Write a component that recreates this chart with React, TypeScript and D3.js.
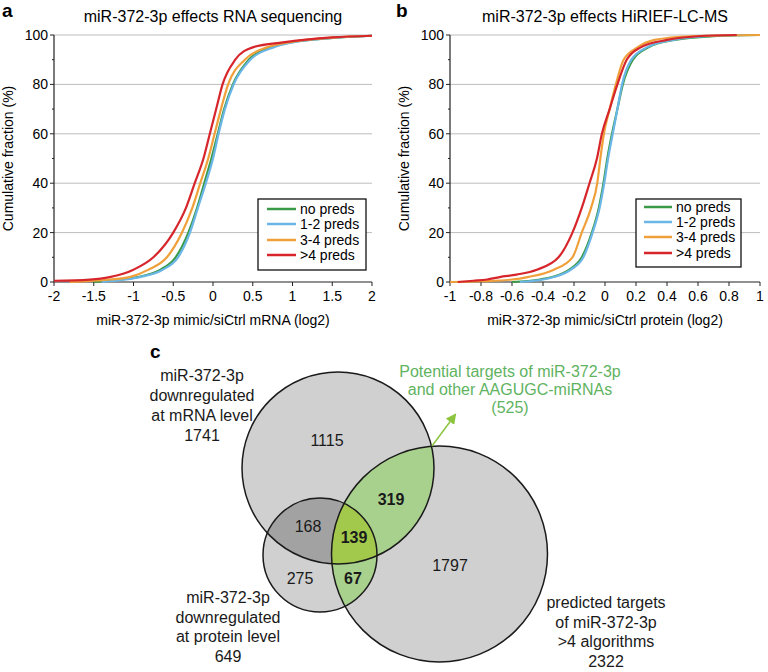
import React from "react";
import * as d3 from "d3";

const FONT = "'Liberation Sans', Arial, Helvetica, sans-serif";

// ---------- Panel a: RNA sequencing (x = log2 ratio, y = cumulative %) ----------
const rnaNoPreds: [number, number][] = [
  [-1.5, 0], [-1.15, 1], [-0.95, 2], [-0.66, 5], [-0.47, 10], [-0.31, 20], [-0.2, 30],
  [-0.11, 40], [-0.02, 50], [0.06, 60], [0.14, 70], [0.25, 80], [0.45, 90], [0.72, 95],
  [0.97, 97], [1.6, 99], [2.0, 99.7],
];
const rnaPreds12: [number, number][] = [
  [-1.4, 0], [-1.1, 1], [-0.92, 2], [-0.63, 5], [-0.44, 10], [-0.29, 20], [-0.19, 30],
  [-0.09, 40], [0.0, 50], [0.07, 60], [0.15, 70], [0.26, 80], [0.47, 90], [0.76, 95],
  [1.0, 97], [1.6, 99], [2.0, 99.7],
];
const rnaPreds34: [number, number][] = [
  [-1.8, 0], [-1.3, 1], [-1.05, 2], [-0.81, 5], [-0.58, 10], [-0.39, 20], [-0.26, 30],
  [-0.16, 40], [-0.06, 50], [0.02, 60], [0.1, 70], [0.19, 80], [0.4, 90], [0.68, 95],
  [0.95, 97], [1.55, 99], [2.0, 99.7],
];
const rnaPredsGt4: [number, number][] = [
  [-2.0, 0.5], [-1.55, 1], [-1.3, 2], [-1.0, 5], [-0.75, 10], [-0.5, 20], [-0.34, 30],
  [-0.23, 40], [-0.12, 50], [-0.04, 60], [0.04, 70], [0.12, 80], [0.28, 90], [0.5, 95],
  [0.88, 97], [1.5, 99], [2.0, 99.7],
];
const rnaTicks = [-2, -1.5, -1, -0.5, 0, 0.5, 1, 1.5, 2];

// ---------- Panel b: HiRIEF-LC-MS ----------
const protNoPreds: [number, number][] = [
  [-0.6, 0], [-0.42, 1], [-0.34, 2], [-0.23, 5], [-0.15, 10], [-0.085, 20], [-0.04, 30],
  [-0.01, 40], [0.015, 50], [0.045, 60], [0.08, 70], [0.115, 80], [0.18, 90], [0.28, 95],
  [0.45, 98], [0.7, 99.5], [1.0, 100],
];
const protPreds12: [number, number][] = [
  [-0.55, 0], [-0.4, 1], [-0.33, 2], [-0.22, 5], [-0.14, 10], [-0.08, 20], [-0.035, 30],
  [-0.005, 40], [0.02, 50], [0.05, 60], [0.08, 70], [0.11, 80], [0.17, 90], [0.27, 95],
  [0.44, 98], [0.65, 99.5], [0.9, 100],
];
const protPreds34: [number, number][] = [
  [-1.0, 0], [-0.8, 0.3], [-0.6, 1], [-0.5, 2], [-0.33, 5], [-0.21, 10], [-0.15, 20],
  [-0.09, 30], [-0.05, 40], [-0.03, 50], [-0.007, 60], [0.03, 70], [0.07, 80], [0.12, 90],
  [0.21, 95], [0.32, 98], [0.55, 99.5], [1.0, 100],
];
const protPredsGt4: [number, number][] = [
  [-0.95, 0], [-0.85, 0.5], [-0.76, 1], [-0.68, 2], [-0.57, 3], [-0.44, 5], [-0.3, 10],
  [-0.21, 20], [-0.15, 30], [-0.1, 40], [-0.052, 50], [-0.02, 60], [0.03, 70], [0.08, 80],
  [0.14, 90], [0.23, 95], [0.4, 98], [0.6, 99.5], [0.85, 100],
];
const protTicks = [-1, -0.8, -0.6, -0.4, -0.2, 0, 0.2, 0.4, 0.6, 0.8, 1];

const seriesNames = ["no preds", "1-2 preds", "3-4 preds", ">4 preds"];
const seriesColors = ["#3b9a48", "#6ab6e6", "#f0a03a", "#d6262b"];
const yTicks = [0, 20, 40, 60, 80, 100];
const yMinorTicks = [10, 30, 50, 70, 90];

// ---------- Panel c: Venn ----------
const vennSetLabels = [
  ["miR-372-3p", "downregulated", "at mRNA level", "1741"],
  ["miR-372-3p", "downregulated", "at protein level", "649"],
  ["predicted targets", "of miR-372-3p", ">4 algorithms", "2322"],
];
const vennCounts = [
  { label: "1115", bold: false },
  { label: "168", bold: false },
  { label: "139", bold: true },
  { label: "319", bold: true },
  { label: "275", bold: false },
  { label: "67", bold: true },
  { label: "1797", bold: false },
];
const potentialLines = ["Potential targets of miR-372-3p", "and other AAGUGC-miRNAs", "(525)"];

type PanelProps = {
  letter: string;
  letterX: number;
  title: string;
  xTitle: string;
  left: number;
  right: number;
  domain: [number, number];
  ticks: number[];
  series: [number, number][][];
  legend: { x0: number; x1: number; y0: number; y1: number; lx0: number; lx1: number; rows: number[] };
};

const TOP = 35;
const BOTTOM = 282;

function CdfPanel(p: PanelProps) {
  const xs = d3.scaleLinear().domain(p.domain).range([p.left, p.right]);
  const ys = d3.scaleLinear().domain([0, 100]).range([BOTTOM, TOP]);
  const line = d3
    .line<[number, number]>()
    .x((d) => xs(d[0]))
    .y((d) => ys(d[1]))
    .curve(d3.curveMonotoneX);
  const cx = (p.left + p.right) / 2;
  return (
    <g fontFamily={FONT}>
      <text x={p.letterX} y={17} fontSize={19} fontWeight="bold">{p.letter}</text>
      <text x={cx} y={22} fontSize={16} textAnchor="middle">{p.title}</text>
      {yTicks.filter((t) => t > 0).map((t) => (
        <line key={t} x1={p.left} x2={p.right} y1={ys(t)} y2={ys(t)} stroke="#bdbdbd" strokeWidth={1} />
      ))}
      {yTicks.map((t) => (
        <g key={t}>
          <line x1={p.left - 4} x2={p.left} y1={ys(t)} y2={ys(t)} stroke="#222" />
          <text x={p.left - 6} y={ys(t) + 5} fontSize={14} textAnchor="end">{t}</text>
        </g>
      ))}
      {yMinorTicks.map((t) => (
        <line key={t} x1={p.left - 2} x2={p.left} y1={ys(t)} y2={ys(t)} stroke="#222" />
      ))}
      {p.ticks.map((t) => (
        <g key={t}>
          <line x1={xs(t)} x2={xs(t)} y1={BOTTOM} y2={BOTTOM + 4} stroke="#222" />
          <text x={xs(t)} y={301} fontSize={14} textAnchor="middle">{String(t)}</text>
        </g>
      ))}
      <line x1={p.left} x2={p.left} y1={TOP} y2={BOTTOM} stroke="#222" strokeWidth={1.2} />
      <line x1={p.left} x2={p.right} y1={BOTTOM} y2={BOTTOM} stroke="#222" strokeWidth={1.2} />
      {p.series.map((s, i) => (
        <path key={i} d={line(s) || ""} fill="none" stroke={seriesColors[i]} strokeWidth={2.2} />
      ))}
      <text x={cx} y={325} fontSize={14} textAnchor="middle">{p.xTitle}</text>
      <text
        transform={`translate(${p.left - 41},${(TOP + BOTTOM) / 2}) rotate(-90)`}
        fontSize={14}
        textAnchor="middle"
      >
        Cumulative fraction (%)
      </text>
      <rect
        x={p.legend.x0}
        y={p.legend.y0}
        width={p.legend.x1 - p.legend.x0}
        height={p.legend.y1 - p.legend.y0}
        fill="#fff"
        stroke="#111"
        strokeWidth={1.3}
      />
      {seriesNames.map((n, i) => (
        <g key={n}>
          <line
            x1={p.legend.lx0}
            x2={p.legend.lx1}
            y1={p.legend.rows[i]}
            y2={p.legend.rows[i]}
            stroke={seriesColors[i]}
            strokeWidth={2.5}
          />
          <text x={p.legend.lx1 + 4} y={p.legend.rows[i] + 5} fontSize={14}>{n}</text>
        </g>
      ))}
    </g>
  );
}

function Venn() {
  const c1 = { x: 338, y: 468, r: 96 };
  const c2 = { x: 320, y: 555, r: 57 };
  const c3 = { x: 439.5, y: 554, r: 108 };
  const countPos = [
    [327, 440], [308, 526], [354, 537], [391, 499], [300, 578], [353, 578], [450, 565],
  ];
  const labelPos = [
    { x: 202, y: 381, dy: 20 },
    { x: 228, y: 603, dy: 19.5 },
    { x: 606, y: 608, dy: 19.5 },
  ];
  return (
    <g fontFamily={FONT}>
      <defs>
        <clipPath id="clip1"><circle cx={c1.x} cy={c1.y} r={c1.r} /></clipPath>
        <clipPath id="clip2"><circle cx={c2.x} cy={c2.y} r={c2.r} /></clipPath>
        <clipPath id="clip3"><circle cx={c3.x} cy={c3.y} r={c3.r} /></clipPath>
        <marker id="arrowG" viewBox="0 0 10 10" refX="8" refY="5" markerWidth="7" markerHeight="7" orient="auto">
          <path d="M0,0 L10,5 L0,10 z" fill="#8cc43f" />
        </marker>
      </defs>
      <text x={150} y={358} fontSize={19} fontWeight="bold">c</text>
      <circle cx={c1.x} cy={c1.y} r={c1.r} fill="#d0d0d0" />
      <circle cx={c2.x} cy={c2.y} r={c2.r} fill="#d0d0d0" />
      <circle cx={c3.x} cy={c3.y} r={c3.r} fill="#d0d0d0" />
      <g clipPath="url(#clip1)">
        <circle cx={c2.x} cy={c2.y} r={c2.r} fill="#a2a2a2" />
        <circle cx={c3.x} cy={c3.y} r={c3.r} fill="#a9d18e" />
      </g>
      <g clipPath="url(#clip2)">
        <circle cx={c3.x} cy={c3.y} r={c3.r} fill="#a9d18e" />
        <g clipPath="url(#clip1)">
          <circle cx={c3.x} cy={c3.y} r={c3.r} fill="#a3c94c" />
        </g>
      </g>
      <circle cx={c1.x} cy={c1.y} r={c1.r} fill="none" stroke="#1a1a1a" strokeWidth={1.5} />
      <circle cx={c2.x} cy={c2.y} r={c2.r} fill="none" stroke="#1a1a1a" strokeWidth={1.5} />
      <circle cx={c3.x} cy={c3.y} r={c3.r} fill="none" stroke="#1a1a1a" strokeWidth={1.5} />
      {vennCounts.map((c, i) => (
        <text
          key={i}
          x={countPos[i][0]}
          y={countPos[i][1] + 6}
          fontSize={16}
          textAnchor="middle"
          fontWeight={c.bold ? "bold" : "normal"}
          fill="#1a1a1a"
        >
          {c.label}
        </text>
      ))}
      {vennSetLabels.map((lines, i) =>
        lines.map((l, j) => (
          <text
            key={`${i}-${j}`}
            x={labelPos[i].x}
            y={labelPos[i].y + j * labelPos[i].dy}
            fontSize={16}
            textAnchor="middle"
            fill="#1a1a1a"
          >
            {l}
          </text>
        ))
      )}
      <line x1={432} y1={446} x2={455} y2={415} stroke="#8cc43f" strokeWidth={1.5} markerEnd="url(#arrowG)" />
      {potentialLines.map((l, j) => (
        <text key={j} x={510} y={377 + j * 18} fontSize={16} textAnchor="middle" fill="#5fb35f">
          {l}
        </text>
      ))}
    </g>
  );
}

export default function App() {
  return (
    <svg
      width={768}
      height={672}
      style={{ position: "absolute", left: 0, top: 0, background: "#fff" }}
    >
      <rect width={768} height={672} fill="#fff" />
      <CdfPanel
        letter="a"
        letterX={2}
        title="miR-372-3p effects RNA sequencing"
        xTitle="miR-372-3p mimic/siCtrl mRNA (log2)"
        left={54}
        right={372}
        domain={[-2, 2]}
        ticks={rnaTicks}
        series={[rnaNoPreds, rnaPreds12, rnaPreds34, rnaPredsGt4]}
        legend={{ x0: 258, x1: 366, y0: 199, y1: 270, lx0: 267, lx1: 296, rows: [209, 224, 240, 255] }}
      />
      <CdfPanel
        letter="b"
        letterX={396}
        title="miR-372-3p effects HiRIEF-LC-MS"
        xTitle="miR-372-3p mimic/siCtrl protein (log2)"
        left={450}
        right={760}
        domain={[-1, 1]}
        ticks={protTicks}
        series={[protNoPreds, protPreds12, protPreds34, protPredsGt4]}
        legend={{ x0: 636, x1: 741, y0: 199, y1: 267, lx0: 644, lx1: 672, rows: [207, 222, 237, 253] }}
      />
      <Venn />
    </svg>
  );
}
